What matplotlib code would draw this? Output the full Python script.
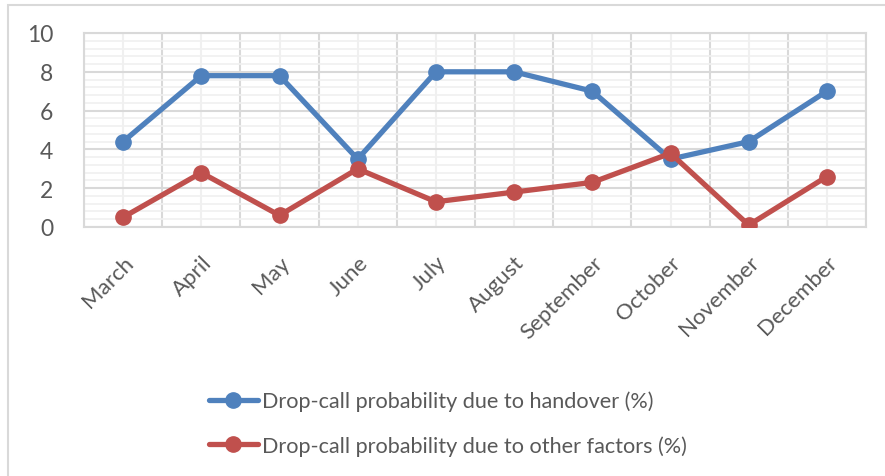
import matplotlib
matplotlib.use("Agg")
import matplotlib.pyplot as plt
from matplotlib.patches import Rectangle
from matplotlib.ticker import MultipleLocator

months = ["March", "April", "May", "June", "July", "August", "September",
          "October", "November", "December"]
handover = [4.4, 7.8, 7.8, 3.5, 8.0, 8.0, 7.0, 3.5, 4.4, 7.0]
other = [0.5, 2.8, 0.6, 3.0, 1.3, 1.8, 2.3, 3.8, 0.1, 2.6]
series_names = ["Drop-call probability due to handover (%)",
                "Drop-call probability due to other factors (%)"]

plt.rcParams['font.family'] = ['Lato', 'DejaVu Sans']
txt = '#595959'

fig = plt.figure(figsize=(8.85, 4.77), dpi=100)
ax = fig.add_axes([84/885, 1-228/477, (866-84)/885, (228-34)/477])

x = list(range(len(months)))
l1, = ax.plot(x, handover, color='#4f81bd', lw=3.8, marker='o', ms=11, zorder=3,
              solid_capstyle='round')
l2, = ax.plot(x, other, color='#c0504d', lw=3.8, marker='o', ms=11, zorder=3,
              solid_capstyle='round')

ax.set_xlim(-0.5, len(months) - 0.5)
ax.set_ylim(0, 10)
ax.yaxis.set_major_locator(MultipleLocator(2))
ax.yaxis.set_minor_locator(MultipleLocator(0.4))
ax.set_xticks(x)
ax.set_xticks([i - 0.5 for i in range(len(months) + 1)], minor=True)
ax.set_xticklabels(months, rotation=45, ha='right', rotation_mode='anchor',
                   fontsize=16, color=txt)
ax.tick_params(axis='x', which='major', length=0, pad=18)
ax.tick_params(axis='x', which='minor', length=0)
ax.tick_params(axis='y', which='both', length=0, labelsize=16.5, labelcolor=txt, pad=22)

ax.grid(True, axis='y', which='major', color='#d9d9d9', lw=1.5, zorder=0)
ax.grid(True, axis='y', which='minor', color='#f0f0f0', lw=1.2, zorder=0)
ax.grid(True, axis='x', which='minor', color='#d9d9d9', lw=1.5, zorder=0)
ax.grid(True, axis='x', which='major', color='#f0f0f0', lw=1.5, zorder=0)
ax.set_axisbelow(True)
for s in ax.spines.values():
    s.set_color('#d9d9d9')
    s.set_linewidth(1.5)

fig.legend([l1, l2], series_names, loc='upper left',
           bbox_to_anchor=(189/885, 1-372/477), frameon=False, fontsize=15.6,
           labelcolor=txt, handlelength=2.3, handletextpad=0.15, labelspacing=1.1)

fig.patches.append(Rectangle((8/885, -0.05), 1.1, 1-6/477+0.05, transform=fig.transFigure,
                             fill=False, edgecolor='#d9d9d9', lw=1.5))

fig.savefig("out.png", dpi=100)
